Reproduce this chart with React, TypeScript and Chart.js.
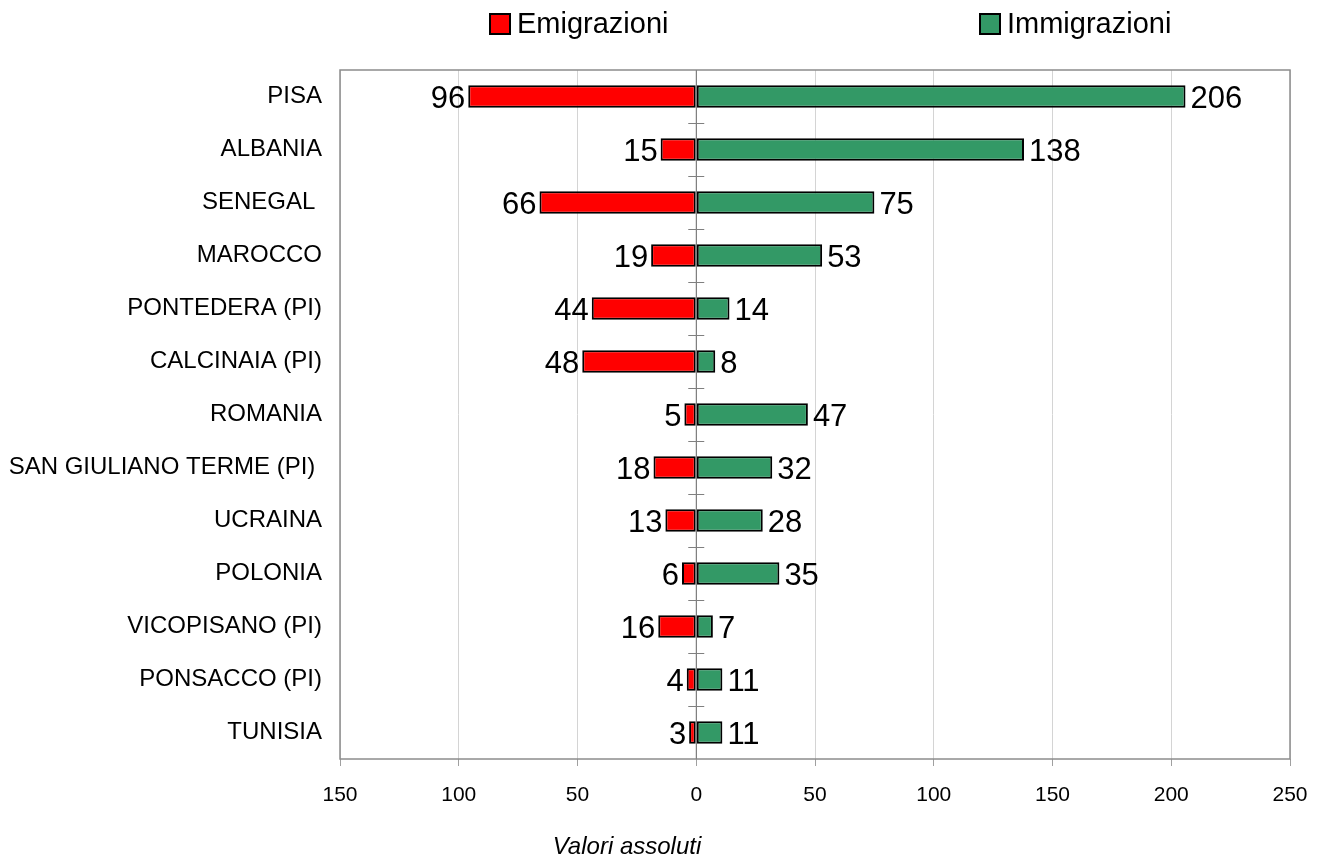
import React, { useEffect, useRef } from "react";
import { Chart, registerables } from "chart.js";

Chart.register(...registerables);

const categories = [
  "PISA",
  "ALBANIA",
  "SENEGAL ",
  "MAROCCO",
  "PONTEDERA (PI)",
  "CALCINAIA (PI)",
  "ROMANIA",
  "SAN GIULIANO TERME (PI) ",
  "UCRAINA",
  "POLONIA",
  "VICOPISANO (PI)",
  "PONSACCO (PI)",
  "TUNISIA",
];
const emigrazioni = [96, 15, 66, 19, 44, 48, 5, 18, 13, 6, 16, 4, 3];
const immigrazioni = [206, 138, 75, 53, 14, 8, 47, 32, 28, 35, 7, 11, 11];
const seriesNames = ["Emigrazioni", "Immigrazioni"];
const seriesColors = ["#FF0000", "#339966"];
const axisTitle = "Valori assoluti";

const FONT = "'Liberation Sans', Arial, sans-serif";

export default function App() {
  const ref = useRef<HTMLCanvasElement | null>(null);

  useEffect(() => {
    if (!ref.current) return;

    const overlay = {
      id: "overlay",
      beforeDatasetsDraw(chart: any) {
        const ctx = chart.ctx;
        const a = chart.chartArea;
        ctx.save();
        ctx.strokeStyle = "#8c8c8c";
        ctx.lineWidth = 1.5;
        ctx.strokeRect(a.left, a.top, a.right - a.left, a.bottom - a.top);
        ctx.restore();
      },
      afterDatasetsDraw(chart: any) {
        const ctx = chart.ctx;
        const a = chart.chartArea;
        const xs = chart.scales.x;
        const zx = xs.getPixelForValue(0);
        ctx.save();
        // zero line and boundary ticks
        ctx.strokeStyle = "#808080";
        ctx.lineWidth = 1;
        ctx.beginPath();
        ctx.moveTo(zx, a.top);
        ctx.lineTo(zx, a.bottom);
        const n = categories.length;
        const band = (a.bottom - a.top) / n;
        for (let k = 1; k < n; k++) {
          const y = Math.round(a.top + k * band) + 0.5;
          ctx.moveTo(zx - 8, y);
          ctx.lineTo(zx + 8, y);
        }
        ctx.stroke();

        // data labels
        ctx.fillStyle = "#000";
        ctx.font = `31px ${FONT}`;
        ctx.textBaseline = "middle";
        chart.data.datasets.forEach((ds: any, di: number) => {
          const meta = chart.getDatasetMeta(di);
          meta.data.forEach((el: any, i: number) => {
            const v = di === 0 ? emigrazioni[i] : immigrazioni[i];
            if (di === 0) {
              ctx.textAlign = "right";
              ctx.fillText(String(v), el.x - 3, el.y + 3);
            } else {
              ctx.textAlign = "left";
              ctx.fillText(String(v), el.x + 5, el.y + 3);
            }
          });
        });

        // legend
        const legendItems = [
          { x: 490, name: seriesNames[0], color: seriesColors[0] },
          { x: 980, name: seriesNames[1], color: seriesColors[1] },
        ];
        ctx.font = `29px ${FONT}`;
        ctx.textAlign = "left";
        legendItems.forEach((it) => {
          ctx.fillStyle = it.color;
          ctx.fillRect(it.x, 14, 20, 20);
          ctx.strokeStyle = "#000";
          ctx.lineWidth = 2;
          ctx.strokeRect(it.x, 14, 20, 20);
          ctx.fillStyle = "#000";
          ctx.fillText(it.name, it.x + 27, 25);
        });

        // axis title
        ctx.font = `italic 24px ${FONT}`;
        ctx.textAlign = "center";
        ctx.fillText(axisTitle, 627, 847);
        ctx.restore();
      },
    };

    const chart = new Chart(ref.current, {
      type: "bar",
      data: {
        labels: categories,
        datasets: [
          {
            label: seriesNames[0],
            data: emigrazioni.map((v) => -v),
            backgroundColor: seriesColors[0],
            borderColor: "#000",
            borderWidth: 2,
            borderSkipped: false,
            barPercentage: 0.42,
            categoryPercentage: 1,
          },
          {
            label: seriesNames[1],
            data: immigrazioni,
            backgroundColor: seriesColors[1],
            borderColor: "#000",
            borderWidth: 2,
            borderSkipped: false,
            barPercentage: 0.42,
            categoryPercentage: 1,
          },
        ],
      },
      options: {
        indexAxis: "y",
        animation: false,
        responsive: true,
        maintainAspectRatio: false,
        layout: { padding: { top: 70, right: 37, left: 0, bottom: 0 } },
        plugins: {
          legend: { display: false },
          tooltip: { enabled: false },
        },
        scales: {
          x: {
            min: -150,
            max: 250,
            stacked: true,
            afterFit(scale: any) {
              scale.height = 99;
            },
            ticks: {
              stepSize: 50,
              color: "#000",
              font: { family: FONT, size: 21 },
              padding: 17,
              maxRotation: 0,
              callback: (v: any) => String(Math.abs(Number(v))),
            },
            grid: {
              color: (c: any) => (c.tick && c.tick.value === 0 ? "#808080" : "#d4d4d4"),
              tickLength: 7,
              drawTicks: true,
              tickColor: "#a0a0a0",
            },
            border: { display: false },
          },
          y: {
            stacked: true,
            afterFit(scale: any) {
              scale.width = 340;
            },
            ticks: {
              color: "#000",
              font: { family: FONT, size: 24 },
              padding: 18,
            },
            grid: { display: false, drawTicks: false },
            border: { display: false },
          },
        },
      },
      plugins: [overlay],
    });
    return () => chart.destroy();
  }, []);

  return (
    <div style={{ position: "fixed", left: 0, top: 0, width: 1327, height: 858, background: "#fff" }}>
      <canvas ref={ref} />
    </div>
  );
}
